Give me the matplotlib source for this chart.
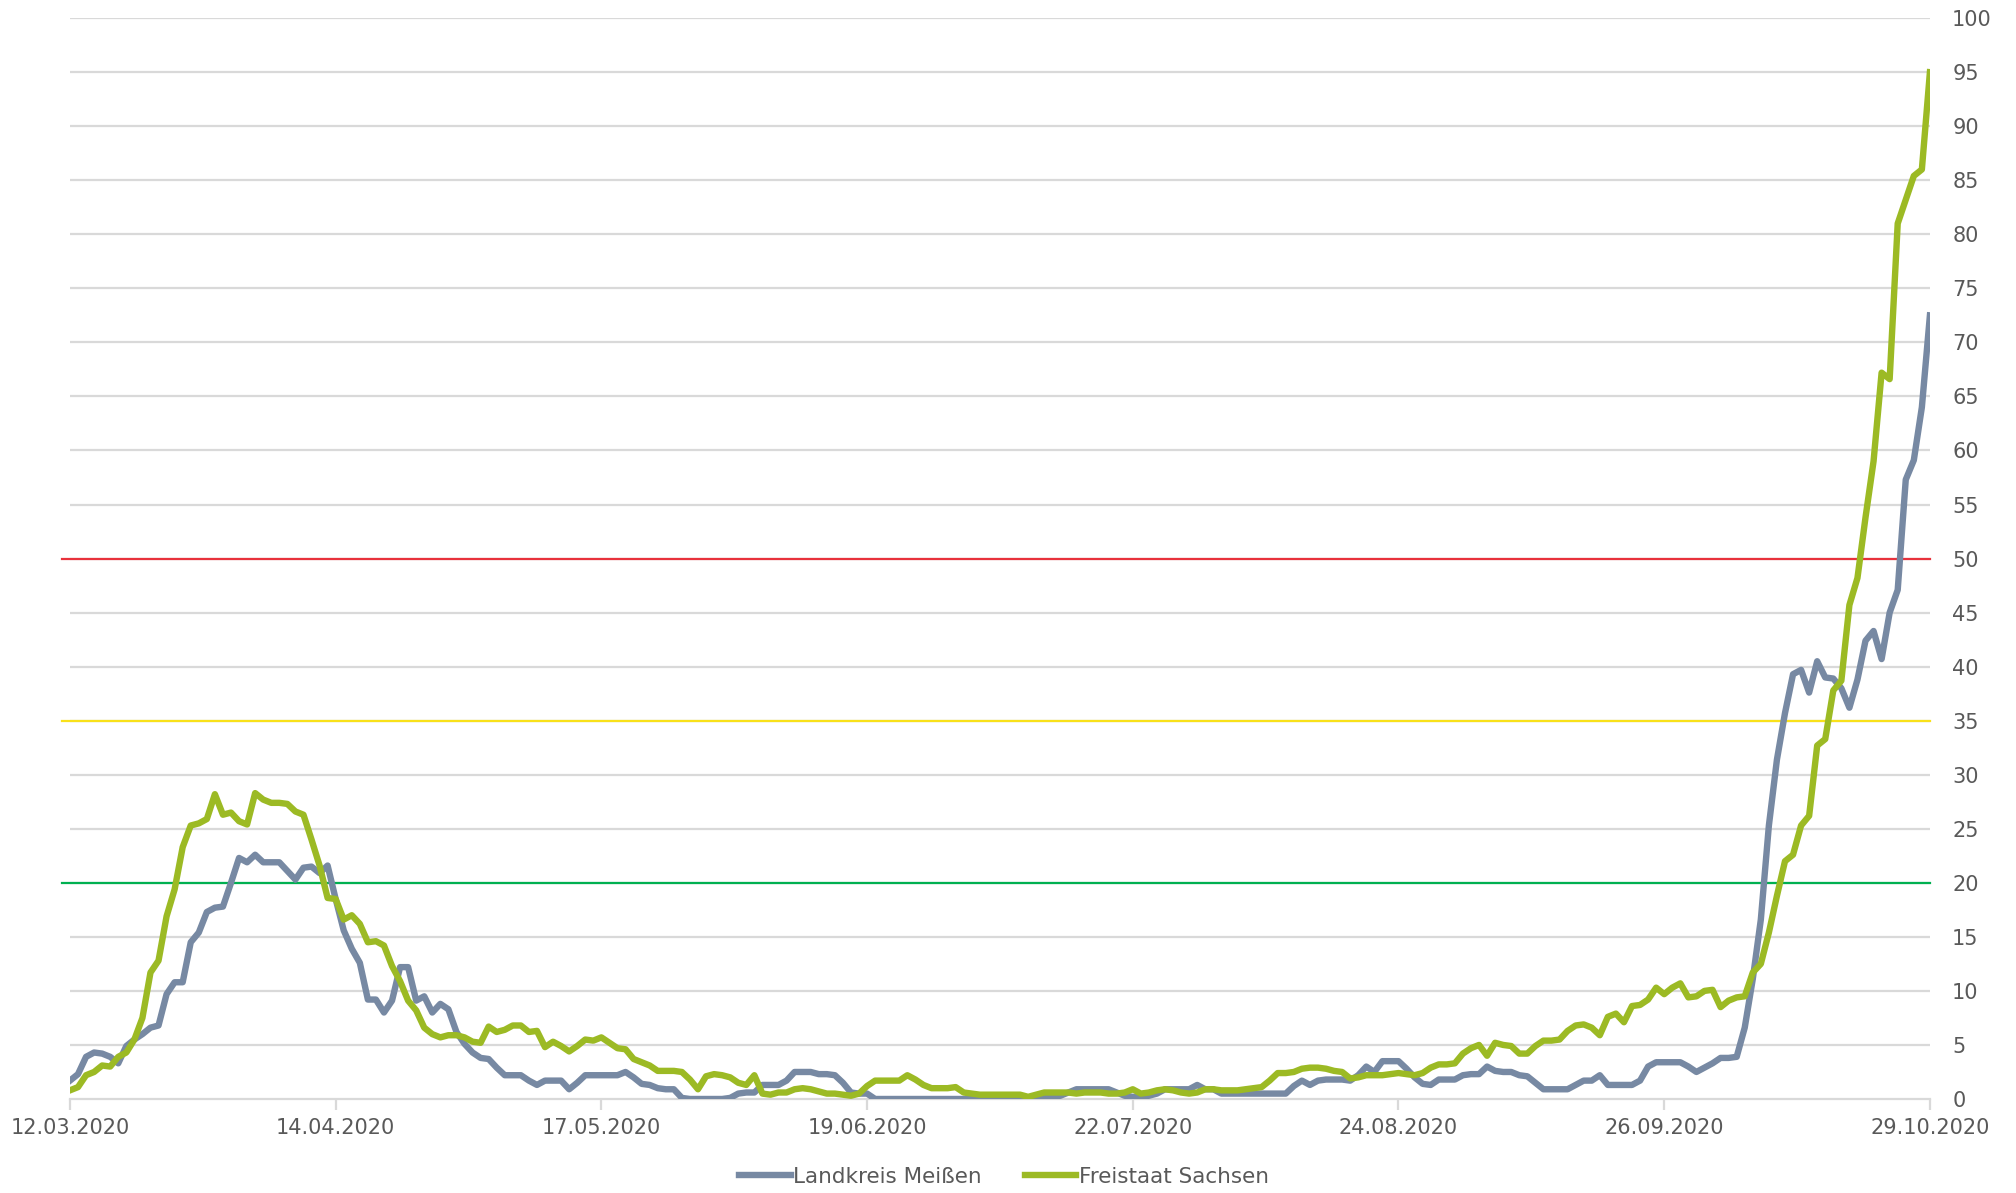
import numpy as np
import matplotlib
matplotlib.use('Agg')
import matplotlib.pyplot as plt

# 7-Tage-Inzidenz, täglich vom 12.03.2020 bis 29.10.2020 (232 Tage)
meissen = [
    1.7, 2.3, 3.9, 4.3, 4.2, 3.9, 3.3, 4.9, 5.5, 6.0,
    6.6, 6.8, 9.7, 10.8, 10.8, 14.5, 15.4, 17.3, 17.7, 17.8,
    20.0, 22.3, 21.9, 22.6, 21.9, 21.9, 21.9, 21.1, 20.3, 21.4,
    21.5, 20.9, 21.6, 18.5, 15.6, 13.9, 12.6, 9.2, 9.2, 8.0,
    9.1, 12.2, 12.2, 9.1, 9.5, 8.0, 8.8, 8.3, 6.2, 5.1,
    4.3, 3.8, 3.7, 2.9, 2.2, 2.2, 2.2, 1.7, 1.3, 1.7,
    1.7, 1.7, 0.9, 1.5, 2.2, 2.2, 2.2, 2.2, 2.2, 2.5,
    2.0, 1.4, 1.3, 1.0, 0.9, 0.9, 0.1, 0.0, 0.0, 0.0,
    0.0, 0.0, 0.1, 0.5, 0.6, 0.6, 1.3, 1.3, 1.3, 1.7,
    2.5, 2.5, 2.5, 2.3, 2.3, 2.2, 1.5, 0.6, 0.5, 0.5,
    0.0, 0.0, 0.0, 0.0, 0.0, 0.0, 0.0, 0.0, 0.0, 0.0,
    0.0, 0.0, 0.0, 0.0, 0.0, 0.0, 0.0, 0.0, 0.0, 0.0,
    0.0, 0.1, 0.2, 0.3, 0.6, 0.9, 0.9, 0.9, 0.9, 0.9,
    0.6, 0.3, 0.2, 0.2, 0.3, 0.5, 0.9, 0.9, 0.9, 0.9,
    1.3, 0.9, 0.9, 0.5, 0.5, 0.5, 0.5, 0.5, 0.5, 0.5,
    0.5, 0.5, 1.2, 1.7, 1.3, 1.7, 1.8, 1.8, 1.8, 1.7,
    2.2, 3.0, 2.5, 3.5, 3.5, 3.5, 2.8, 2.0, 1.4, 1.3,
    1.8, 1.8, 1.8, 2.2, 2.3, 2.3, 3.0, 2.6, 2.5, 2.5,
    2.2, 2.1, 1.5, 0.9, 0.9, 0.9, 0.9, 1.3, 1.7, 1.7,
    2.2, 1.3, 1.3, 1.3, 1.3, 1.7, 3.0, 3.4, 3.4, 3.4,
    3.4, 3.0, 2.5, 2.9, 3.3, 3.8, 3.8, 3.9, 6.6, 11.1,
    16.6, 25.3, 31.4, 35.7, 39.3, 39.7, 37.6, 40.5, 39.0, 38.9,
    38.0, 36.2, 38.8, 42.4, 43.3, 40.7, 45.0, 47.1, 57.3, 59.1,
    64.0, 72.5,
]

sachsen = [
    0.8, 1.1, 2.2, 2.5, 3.1, 3.0, 3.9, 4.3, 5.5, 7.5,
    11.7, 12.8, 16.9, 19.4, 23.3, 25.3, 25.5, 25.9, 28.2, 26.3,
    26.5, 25.7, 25.4, 28.3, 27.7, 27.4, 27.4, 27.3, 26.6, 26.3,
    24.0, 21.6, 18.6, 18.5, 16.6, 17.0, 16.2, 14.5, 14.6, 14.2,
    12.3, 10.9, 9.1, 8.2, 6.6, 6.0, 5.7, 5.9, 5.9, 5.7,
    5.3, 5.2, 6.7, 6.2, 6.4, 6.8, 6.8, 6.2, 6.3, 4.8,
    5.3, 4.9, 4.4, 4.9, 5.5, 5.4, 5.7, 5.2, 4.7, 4.6,
    3.7, 3.4, 3.1, 2.6, 2.6, 2.6, 2.5, 1.8, 0.9, 2.1,
    2.3, 2.2, 2.0, 1.5, 1.3, 2.2, 0.5, 0.4, 0.6, 0.6,
    0.9, 1.0, 0.9, 0.7, 0.5, 0.5, 0.4, 0.3, 0.5, 1.2,
    1.7, 1.7, 1.7, 1.7, 2.2, 1.8, 1.3, 1.0, 1.0, 1.0,
    1.1, 0.6, 0.5, 0.4, 0.4, 0.4, 0.4, 0.4, 0.4, 0.2,
    0.4, 0.6, 0.6, 0.6, 0.6, 0.5, 0.6, 0.6, 0.6, 0.5,
    0.5, 0.6, 0.9, 0.5, 0.6, 0.8, 0.9, 0.8, 0.6, 0.5,
    0.6, 0.9, 0.9, 0.8, 0.8, 0.8, 0.9, 1.0, 1.1, 1.7,
    2.4, 2.4, 2.5, 2.8, 2.9, 2.9, 2.8, 2.6, 2.5, 1.9,
    2.0, 2.2, 2.2, 2.2, 2.3, 2.4, 2.3, 2.2, 2.4, 2.9,
    3.2, 3.2, 3.3, 4.2, 4.7, 5.0, 4.0, 5.2, 5.0, 4.9,
    4.2, 4.2, 4.9, 5.4, 5.4, 5.5, 6.3, 6.8, 6.9, 6.6,
    5.9, 7.6, 7.9, 7.1, 8.6, 8.7, 9.2, 10.3, 9.7, 10.3,
    10.7, 9.4, 9.5, 10.0, 10.1, 8.5, 9.1, 9.4, 9.5, 11.7,
    12.5, 15.4, 18.8, 22.0, 22.6, 25.3, 26.2, 32.7, 33.3, 37.8,
    38.7, 45.7, 48.2, 53.8, 59.0, 67.2, 66.6, 81.0, 83.2, 85.4,
    86.0, 95.0,
]

date_labels = ['12.03.2020', '14.04.2020', '17.05.2020', '19.06.2020',
               '22.07.2020', '24.08.2020', '26.09.2020', '29.10.2020']
label_days = [0, 33, 66, 99, 132, 165, 198, 231]

# Grenzwerte
thresholds = [50, 35, 20]
threshold_colors = ['#e8323c', '#f9e11a', '#00b050']

text_grey = '#595959'
grid_grey = '#d9d9d9'


def plot_incidence():
    days = np.arange(len(meissen))

    fig = plt.figure(figsize=(20.16, 11.93), dpi=100)
    ax = fig.add_axes([0.0347, 0.0788, 0.9226, 0.906])

    for y in range(5, 101, 5):
        ax.axhline(y, color=grid_grey, lw=1.6, zorder=1)

    for y, c in zip(thresholds, threshold_colors):
        ax.plot([-1.0, days[-1]], [y, y], color=c, lw=1.6, zorder=2,
                clip_on=False)

    ax.plot(days, meissen, color='#7789a3', lw=4.6, zorder=3,
            solid_joinstyle='round', label='Landkreis Meißen')
    ax.plot(days, sachsen, color='#9cba24', lw=4.6, zorder=4,
            solid_joinstyle='round', label='Freistaat Sachsen')

    ax.set_xlim(0, days[-1])
    ax.set_ylim(0, 100)

    for side in ['top', 'left', 'right']:
        ax.spines[side].set_visible(False)
    ax.spines['bottom'].set_color(grid_grey)
    ax.spines['bottom'].set_linewidth(1.6)

    ax.set_xticks(label_days)
    ax.set_xticklabels(date_labels, fontsize=15, color=text_grey)
    ax.tick_params(axis='x', length=8, width=1.6, color=grid_grey, pad=6)

    ax.yaxis.tick_right()
    ax.set_yticks(range(0, 101, 5))
    ax.set_yticklabels([str(v) for v in range(0, 101, 5)],
                       fontsize=15, color=text_grey)
    ax.tick_params(axis='y', length=0, pad=16)
    for lab in ax.get_yticklabels():
        lab.set_horizontalalignment('left')

    fig.legend(loc='center', bbox_to_anchor=(0.498, 0.0135), ncol=2,
               frameon=False, fontsize=15.5, labelcolor=text_grey,
               handlelength=2.4, handletextpad=0.1, columnspacing=2.0)

    fig.savefig('out.png', dpi=100)


if __name__ == "__main__":
    plot_incidence()
